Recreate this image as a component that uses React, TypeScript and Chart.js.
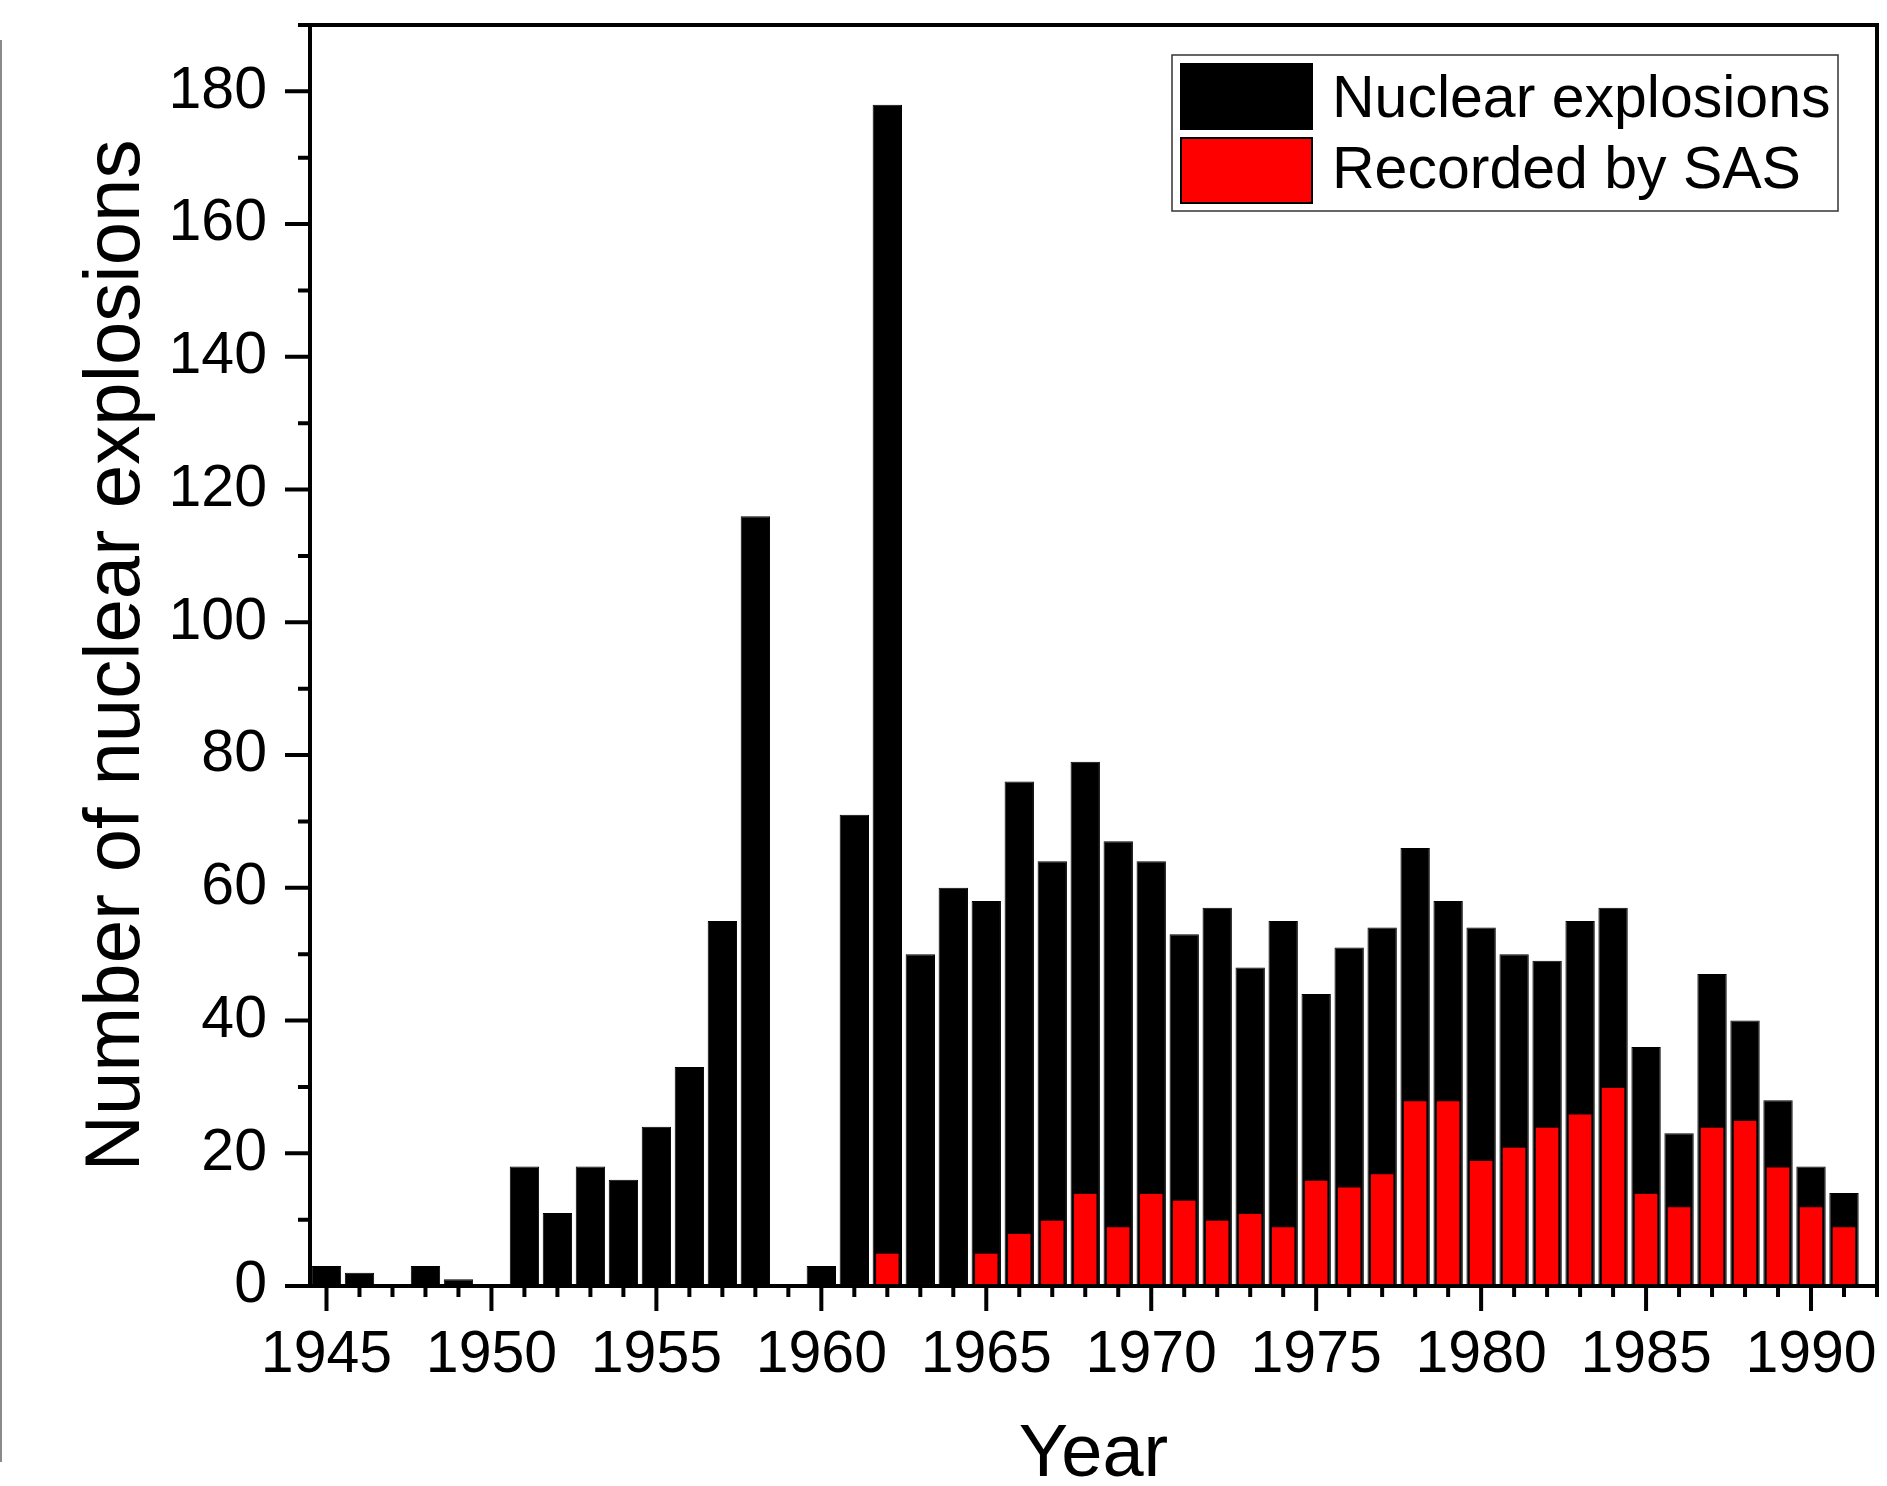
import React, { useEffect, useRef } from 'react';
import { Chart, registerables } from 'chart.js';

Chart.register(...registerables);

const years = [
  1945, 1946, 1947, 1948, 1949, 1950, 1951, 1952, 1953, 1954, 1955, 1956, 1957, 1958, 1959, 1960,
  1961, 1962, 1963, 1964, 1965, 1966, 1967, 1968, 1969, 1970, 1971, 1972, 1973, 1974, 1975, 1976,
  1977, 1978, 1979, 1980, 1981, 1982, 1983, 1984, 1985, 1986, 1987, 1988, 1989, 1990, 1991,
];

const nuclearExplosions = [
  3, 2, 0, 3, 1, 0, 18, 11, 18, 16, 24, 33, 55, 116, 0, 3,
  71, 178, 50, 60, 58, 76, 64, 79, 67, 64, 53, 57, 48, 55, 44, 51,
  54, 66, 58, 54, 50, 49, 55, 57, 36, 23, 47, 40, 28, 18, 14,
];

const recordedBySAS: (number | null)[] = [
  null, null, null, null, null, null, null, null, null, null, null, null, null, null, null, null,
  0.4, 5, 0.4, 0, 5, 8, 10, 14, 9, 14, 13, 10, 11, 9, 16, 15,
  17, 28, 28, 19, 21, 24, 26, 30, 14, 12, 24, 25, 18, 12, 9,
];

const xTickLabels = [1945, 1950, 1955, 1960, 1965, 1970, 1975, 1980, 1985, 1990];
const yTickLabels = [0, 20, 40, 60, 80, 100, 120, 140, 160, 180];

const seriesLabels = ['Nuclear explosions', 'Recorded by SAS'];
const seriesColors = ['#000000', '#ff0000'];

const FONT = "'Liberation Sans', Arial, Helvetica, sans-serif";

const framePlugin = {
  id: 'frameAndTicks',
  afterDatasetsDraw(chart: any) {
    const { ctx, chartArea, scales } = chart;
    const { left, right, top, bottom } = chartArea;
    const x = scales.x;
    const y = scales.y;
    ctx.save();
    ctx.strokeStyle = '#000';
    ctx.lineWidth = 4;
    ctx.lineCap = 'butt';
    ctx.beginPath();
    ctx.rect(left, top, right - left, bottom - top);
    ctx.stroke();
    // x ticks: minor every year, major every 5
    ctx.beginPath();
    for (let yr = Math.ceil(x.min); yr <= Math.floor(x.max); yr++) {
      const px = x.getPixelForValue(yr);
      const len = yr % 5 === 0 ? 25 : 11;
      ctx.moveTo(px, bottom);
      ctx.lineTo(px, bottom + len);
    }
    // y ticks: minor every 10, major every 20
    for (let v = 0; v <= y.max + 0.001; v += 10) {
      const py = y.getPixelForValue(v);
      const len = v % 20 === 0 ? 25 : 12;
      ctx.moveTo(left - len, py);
      ctx.lineTo(left, py);
    }
    ctx.stroke();

    // legend box inside the plot area
    const lx = right - 705;
    const ly = top + 30;
    const lw = 666;
    const lh = 156;
    ctx.lineWidth = 1.5;
    ctx.strokeStyle = '#333';
    ctx.fillStyle = '#fff';
    ctx.fillRect(lx, ly, lw, lh);
    ctx.strokeRect(lx, ly, lw, lh);
    ctx.font = `59px ${FONT}`;
    ctx.textBaseline = 'alphabetic';
    ctx.textAlign = 'left';
    seriesLabels.forEach((label, i) => {
      const by = ly + 8 + i * 74;
      ctx.fillStyle = seriesColors[i];
      ctx.fillRect(lx + 8, by, 133, 67);
      if (i === 1) {
        ctx.lineWidth = 2;
        ctx.strokeStyle = '#000';
        ctx.strokeRect(lx + 9, by + 1, 131, 65);
      }
      ctx.fillStyle = '#000';
      ctx.fillText(label, lx + 160, ly + 62 + i * 71);
    });

    // thin grey scan edge on the far left
    ctx.strokeStyle = '#8a8a8a';
    ctx.lineWidth = 2;
    ctx.beginPath();
    ctx.moveTo(1, 40);
    ctx.lineTo(1, 1462);
    ctx.stroke();
    ctx.restore();
  },
};

export default function App() {
  const ref = useRef<HTMLCanvasElement | null>(null);

  useEffect(() => {
    if (!ref.current) return;
    document.body.style.margin = '0';
    const chart = new Chart(ref.current, {
      type: 'bar',
      data: {
        datasets: [
          {
            label: seriesLabels[0],
            data: years.map((yr, i) => ({ x: yr, y: nuclearExplosions[i] })),
            backgroundColor: seriesColors[0],
            borderColor: '#000',
            borderWidth: 1,
            barPercentage: 0.89,
            categoryPercentage: 1,
            grouped: false,
            order: 2,
          },
          {
            label: seriesLabels[1],
            data: years.map((yr, i) => ({ x: yr, y: recordedBySAS[i] })),
            backgroundColor: seriesColors[1],
            borderColor: '#1a0000',
            borderWidth: 1,
            barPercentage: 0.74,
            categoryPercentage: 1,
            grouped: false,
            order: 1,
          },
        ],
      } as any,
      options: {
        responsive: false,
        animation: false,
        maintainAspectRatio: false,
        layout: { padding: { left: 0, right: 10, top: 25, bottom: 0 } },
        plugins: {
          legend: { display: false },
          tooltip: { enabled: false },
        },
        scales: {
          x: {
            type: 'linear',
            min: 1944.5,
            max: 1992,
            offset: false,
            grid: { display: false, drawTicks: true, tickLength: 34 },
            border: { display: false },
            ticks: {
              stepSize: 5,
              includeBounds: false,
              autoSkip: false,
              maxRotation: 0,
              padding: 0,
              color: '#000',
              font: { family: FONT, size: 59 },
              callback: (v: any) => (xTickLabels.includes(Number(v)) ? String(v) : ''),
            },
            title: {
              display: true,
              text: 'Year',
              color: '#000',
              font: { family: FONT, size: 74, lineHeight: 0.8 },
              padding: { top: 0, bottom: 1 },
            },
            afterFit: (s: any) => {
              s.height = 200;
            },
          },
          y: {
            type: 'linear',
            min: 0,
            max: 190,
            grid: { display: false, drawTicks: true, tickLength: 43 },
            border: { display: false },
            ticks: {
              stepSize: 20,
              includeBounds: false,
              autoSkip: false,
              padding: 0,
              color: '#000',
              font: { family: FONT, size: 59, lineHeight: 0.8 },
              callback: (v: any) => (yTickLabels.includes(Number(v)) ? String(v) : ''),
            },
            title: {
              display: true,
              text: 'Number of nuclear explosions',
              color: '#000',
              font: { family: FONT, size: 78, lineHeight: 1.2 },
              padding: { top: 71, bottom: 0 },
            },
            afterFit: (s: any) => {
              s.width = 310;
            },
          },
        },
      } as any,
      plugins: [framePlugin],
    });
    return () => chart.destroy();
  }, []);

  return (
    <div style={{ position: 'absolute', left: 0, top: 0, width: 1887, height: 1486, background: '#fff' }}>
      <canvas ref={ref} width={1887} height={1486} style={{ width: 1887, height: 1486, display: 'block' }} />
    </div>
  );
}
